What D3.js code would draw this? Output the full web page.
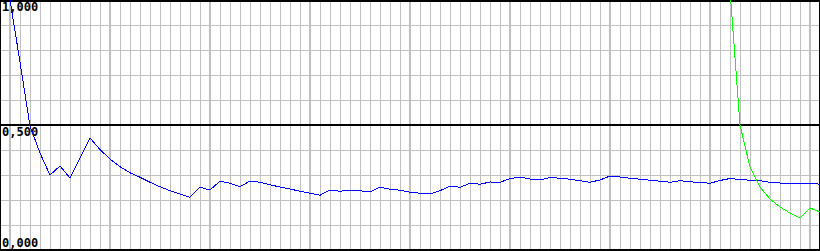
<!DOCTYPE html>
<html>
<head>
<meta charset="utf-8">
<script src="https://cdn.jsdelivr.net/npm/d3@7"></script>
<style>
html,body{margin:0;padding:0;background:#fff;overflow:hidden;}
svg{display:block;}
</style>
</head>
<body>
<svg id="chart" width="820" height="251"></svg>
<script>
// x positions are sample indices (0..82)
const blueValues = [1.248,1.000,0.752,0.496,0.388,0.300,0.336,0.288,0.368,0.448,
  0.402,0.364,0.333,0.309,0.291,0.271,0.253,0.237,0.224,0.211,
  0.251,0.240,0.275,0.267,0.253,0.276,0.271,0.261,0.252,0.244,
  0.235,0.227,0.219,0.240,0.235,0.240,0.237,0.232,0.251,0.243,
  0.239,0.231,0.227,0.224,0.237,0.256,0.251,0.267,0.263,0.272,
  0.271,0.285,0.292,0.284,0.280,0.290,0.287,0.283,0.277,0.271,
  0.280,0.296,0.292,0.287,0.283,0.279,0.275,0.271,0.277,0.273,
  0.270,0.267,0.278,0.286,0.282,0.279,0.277,0.271,0.268,0.264,
  0.265,0.267,0.263];
const greenStart = 73;
const greenValues = [1.04,0.500,0.332,0.252,0.204,0.172,0.148,0.128,0.168,0.152];
const yLabels = ["1,000","0,500","0,000"];
const yLabelValues = [1, 0.5, 0];
const yGridValues = [0.1,0.2,0.3,0.4,0.6,0.7,0.8,0.9];

const W = 820, H = 250;
const svg = d3.select("#chart");
const x = d3.scaleLinear().domain([0, 82]).range([0, 820]);
const y = d3.scaleLinear().domain([0, 1]).range([H, 0]);

// vertical grid
const vIdx = d3.range(1, 82);
svg.append("g").selectAll("line").data(vIdx).join("line")
  .attr("x1", d => (d - 1) % 10 === 0 ? x(d) : x(d) + 0.5)
  .attr("x2", d => (d - 1) % 10 === 0 ? x(d) : x(d) + 0.5)
  .attr("y1", 0).attr("y2", 251)
  .attr("stroke", "#c0c0c0")
  .attr("stroke-width", d => (d - 1) % 10 === 0 ? 2 : 1)
  .attr("shape-rendering", "crispEdges");

// horizontal grid
svg.append("g").selectAll("line").data(yGridValues).join("line")
  .attr("x1", 0).attr("x2", W)
  .attr("y1", d => Math.round(y(d)) + 0.5).attr("y2", d => Math.round(y(d)) + 0.5)
  .attr("stroke", "#c0c0c0").attr("stroke-width", 1)
  .attr("shape-rendering", "crispEdges");

// black lines: mid line, top, bottom, left, right
svg.append("rect").attr("x", 0).attr("y", y(0.5) - 1).attr("width", W).attr("height", 2).attr("fill", "#000");
svg.append("rect").attr("x", 0).attr("y", 0).attr("width", W).attr("height", 2).attr("fill", "#000");
svg.append("rect").attr("x", 0).attr("y", y(0) - 1).attr("width", W).attr("height", 2).attr("fill", "#000");
svg.append("rect").attr("x", 0).attr("y", 0).attr("width", 1).attr("height", 251).attr("fill", "#000");
svg.append("rect").attr("x", 819).attr("y", 0).attr("width", 1).attr("height", 251).attr("fill", "#000");

// labels
const labelOffset = [11, 11, -3];
svg.append("g").selectAll("text").data(yLabels).join("text")
  .attr("x", 2)
  .attr("y", (d, i) => y(yLabelValues[i]) + labelOffset[i])
  .attr("font-family", "'DejaVu Sans Mono', monospace")
  .attr("font-weight", "bold")
  .attr("font-size", "12px")
  .attr("fill", "#000")
  .text(d => d);

// lines
svg.append("clipPath").attr("id", "clip").append("rect")
  .attr("x", 0).attr("y", 0).attr("width", W).attr("height", 251);

const line = d3.line().x(d => x(d[0])).y(d => y(d[1]));
const blueData = blueValues.map((v, i) => [i, v]);
const greenData = greenValues.map((v, i) => [greenStart + i, v]);

const plot = svg.append("g").attr("clip-path", "url(#clip)");
plot.append("path").datum(blueData).attr("d", line)
  .attr("fill", "none").attr("stroke", "#0000ff").attr("stroke-width", 1)
  .attr("shape-rendering", "crispEdges");
plot.append("path").datum(greenData).attr("d", line)
  .attr("fill", "none").attr("stroke", "#00ff00").attr("stroke-width", 1)
  .attr("shape-rendering", "crispEdges");
</script>
</body>
</html>
